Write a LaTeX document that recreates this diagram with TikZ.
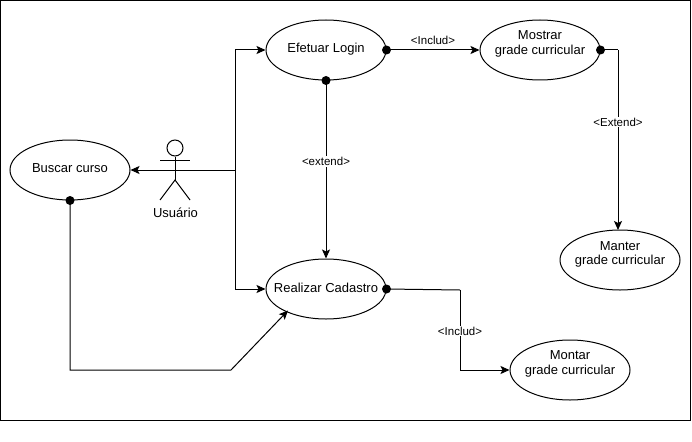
\documentclass[tikz,border=0pt]{standalone}
\usepackage{fontspec}
\setmainfont{Liberation Sans}
\usetikzlibrary{shapes.geometric,arrows.meta}
\tikzset{
  x=1pt,y=-1pt,
  usecase/.style={draw,line width=1pt,ellipse,minimum width=120pt,minimum height=60pt,inner sep=-30pt,align=center,font=\fontsize{13}{14.8}\selectfont},
  conn/.style={line width=1pt,-{Stealth[length=9pt,width=8pt,inset=2pt]}},
  plainline/.style={line width=1pt},
  edgelabel/.style={fill=white,inner sep=1pt,font=\fontsize{11.5}{13}\selectfont},
  startdot/.style={circle,fill=black,inner sep=0pt,minimum size=9pt},
}
\begin{document}
\begin{tikzpicture}
\useasboundingbox (0,0) rectangle (692,441);
\draw[line width=1pt] (0.5,0.5) rectangle (690,420);
\node[usecase] (buscar) at (70,170) {\raisebox{4pt}{Buscar curso}};
\node[usecase] (login) at (326,50) {\raisebox{4pt}{Efetuar Login}};
\node[usecase] (mostrar) at (540,50) {\raisebox{15pt}{\shortstack{Mostrar\\[2pt]grade curricular}}};
\node[usecase] (cadastro) at (326,289) {\raisebox{3pt}{Realizar Cadastro}};
\node[usecase] (manter) at (620,260) {\raisebox{14pt}{\shortstack{Manter\\[2pt]grade curricular}}};
\node[usecase] (montar) at (570,370) {\raisebox{15pt}{\shortstack{Montar\\[2pt]grade curricular}}};
% actor
\node[draw,circle,line width=1pt,minimum size=16pt,inner sep=0pt] (head) at (175,148) {};
\coordinate (hip) at (175,180);
\coordinate (armL) at (160,160);
\coordinate (armR) at (190,160);
\coordinate (legL) at (160,200);
\coordinate (legR) at (190,200);
\draw[plainline] (head.south) -- (hip);
\draw[plainline] (armL) -- (armR);
\draw[plainline] (legL) -- (hip) -- (legR);
\node[font=\fontsize{13}{14}\selectfont] (usuario) at (175.5,213) {Usuário};
% junction
\coordinate (junction) at (235,170);
\coordinate (jtop) at (235,50);
\coordinate (jbot) at (235,289);
\draw[conn] (junction) -- (buscar.east);
\draw[conn] (junction) -- (jtop) -- (login.west);
\draw[conn] (junction) -- (jbot) -- (cadastro.west);
% buscar -> cadastro
\coordinate (b1) at (70,370);
\coordinate (b2) at (231,370);
\coordinate (b3) at (288,310.5);
\draw[conn] (buscar.south) -- (b1) -- (b2) -- (b3);
\node[startdot] (d1) at (buscar.south) {};
% login -> mostrar
\draw[conn] (login.east) -- node[edgelabel,yshift=10pt,fill=none] (l1) {<Includ>} (mostrar.west);
\node[startdot] (d2) at (login.east) {};
% login -> cadastro
\draw[conn] (login.south) -- node[edgelabel,pos=.456] (l2) {<extend>} (cadastro.north);
\node[startdot] (d3) at (login.south) {};
% mostrar -> manter
\coordinate (m1) at (618,50);
\coordinate (m2) at (618,230);
\draw[plainline] (mostrar.east) -- (m1);
\draw[conn] (m1) -- node[edgelabel,pos=.4] (l3) {<Extend>} (m2);
\node[startdot] (d4) at (mostrar.east) {};
% cadastro -> montar
\coordinate (c1) at (460,290);
\coordinate (c2) at (460,370);
\draw[plainline] (cadastro.east) -- (c1);
\draw[conn] (c1) -- (c2) -- (montar.west);
\node[edgelabel] (l4) at (460,331) {<Includ>};
\node[startdot] (d5) at (cadastro.east) {};
\end{tikzpicture}
\end{document}
